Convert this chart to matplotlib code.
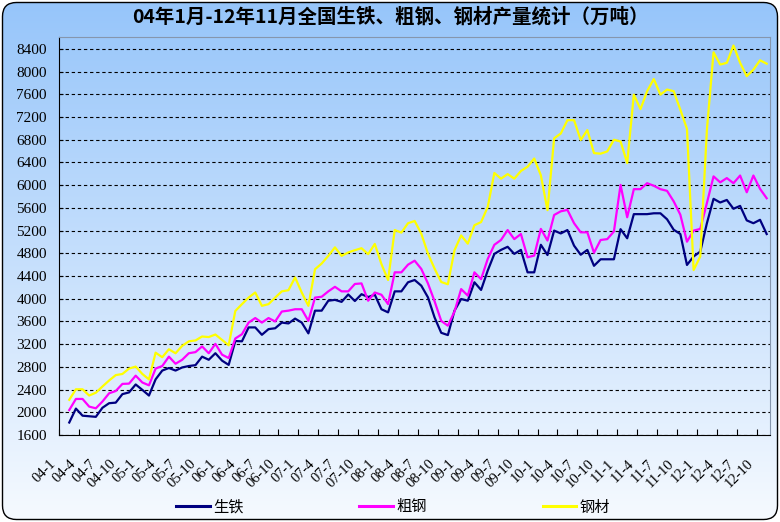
import numpy as np
import matplotlib
matplotlib.use("Agg")
import matplotlib.pyplot as plt
import matplotlib.transforms as mtransforms
from matplotlib.patches import FancyBboxPatch
from matplotlib.lines import Line2D

# ===================== DATA (万吨, 04-1 .. 12-11) =====================
# one row per year, Jan..Dec; 04-1 has no value
pig_iron = [
    None, 1820, 2065, 1940, 1930, 1920, 2080, 2160, 2170, 2320, 2350, 2490,
    2395, 2295, 2580, 2735, 2780, 2735, 2790, 2815, 2830, 2980, 2925, 3040,
    2910, 2835, 3255, 3250, 3495, 3495, 3365, 3465, 3480, 3580, 3565, 3650,
    3580, 3390, 3790, 3790, 3965, 3980, 3945, 4075, 3960, 4080, 4030, 4070,
    3815, 3760, 4130, 4130, 4290, 4330, 4230, 4025, 3670, 3400, 3360, 3790,
    3995, 3965, 4290, 4155, 4495, 4790, 4860, 4915, 4790, 4860, 4465, 4465,
    4950, 4770, 5200, 5150, 5210, 4935, 4775, 4860, 4580, 4695, 4695, 4695,
    5225, 5065, 5490, 5490, 5490, 5505, 5505, 5400, 5215, 5140, 4595, 4745,
    4830, 5330, 5760, 5695, 5740, 5585, 5635, 5380, 5330, 5390, 5140,
]
crude_steel = [
    None, 2040, 2235, 2235, 2100, 2070, 2190, 2335, 2375, 2500, 2505, 2645,
    2525, 2475, 2770, 2815, 2980, 2855, 2925, 3040, 3060, 3160, 3040, 3205,
    3015, 2955, 3300, 3375, 3580, 3660, 3580, 3660, 3600, 3775, 3790, 3815,
    3815, 3610, 4020, 4035, 4130, 4210, 4130, 4130, 4260, 4270, 3965, 4110,
    4070, 3905, 4465, 4465, 4600, 4670, 4525, 4270, 3955, 3610, 3525, 3775,
    4170, 4055, 4465, 4345, 4700, 4950, 5035, 5210, 5050, 5140, 4730, 4760,
    5230, 5025, 5475, 5540, 5565, 5330, 5170, 5170, 4810, 5035, 5050, 5185,
    6005, 5435, 5930, 5930, 6035, 5990, 5930, 5900, 5715, 5480, 5005, 5200,
    5230, 5685, 6155, 6050, 6125, 6035, 6170, 5875, 6170, 5935, 5770,
]
steel_products = [
    None, 2220, 2405, 2405, 2295, 2345, 2455, 2560, 2655, 2675, 2770, 2805,
    2675, 2580, 3050, 2970, 3110, 3040, 3170, 3250, 3265, 3335, 3325, 3370,
    3275, 3180, 3785, 3905, 4020, 4110, 3875, 3905, 4020, 4130, 4150, 4375,
    4110, 3875, 4520, 4620, 4755, 4905, 4755, 4815, 4855, 4890, 4785, 4965,
    4610, 4330, 5210, 5165, 5330, 5370, 5145, 4795, 4530, 4295, 4255, 4855,
    5115, 4970, 5295, 5350, 5615, 6215, 6115, 6195, 6115, 6250, 6325, 6470,
    6175, 5560, 6825, 6910, 7145, 7145, 6795, 6970, 6565, 6555, 6595, 6800,
    6770, 6390, 7595, 7340, 7655, 7870, 7595, 7685, 7655, 7330, 6990, 4505,
    4745, 6975, 8340, 8125, 8155, 8460, 8155, 7920, 8035, 8200, 8140,
]
series_names = ["生铁", "粗钢", "钢材"]
months = [f"{y:02d}-{m}" for y in range(4, 13) for m in range(1, 13)][:len(pig_iron)]
TITLE = "04年1月-12年11月全国生铁、粗钢、钢材产量统计（万吨）"
# =====================================================================

plt.rcParams['font.family'] = ['Noto Sans CJK SC', 'DejaVu Sans']

W, H = 780, 522
fig = plt.figure(figsize=(W / 100, H / 100), dpi=100)

# background: blue gradient inside a rounded frame
bg = fig.add_axes([0, 0, 1, 1], zorder=-10)
bg.set_xlim(0, W)
bg.set_ylim(0, H)
bg.axis('off')
t = np.linspace(0, 1, 256)[:, None, None]
top_c = np.array([150, 197, 250]) / 255
bot_c = np.array([246, 250, 255]) / 255
grad = top_c * (1 - t) + bot_c * t
im = bg.imshow(grad, extent=(0, W, 0, H), aspect='auto', origin='upper')
frame = FancyBboxPatch((2.5, 2.5), W - 5, H - 5,
                       boxstyle="round,pad=0,rounding_size=14",
                       fc='none', ec='black', lw=1.0)
bg.add_patch(frame)
im.set_clip_path(frame)

# plot area
x0, x1, ytop, ybot = 59.3, 770, 37, 435
ax = fig.add_axes([x0 / W, 1 - ybot / H, (x1 - x0) / W, (ybot - ytop) / H])
ax.patch.set_alpha(0)

x = np.arange(len(months))
colors = ["#000080", "#FF00FF", "#FFFF00"]
for vals, c in zip([pig_iron, crude_steel, steel_products], colors):
    ax.plot(x, np.array(vals, dtype=float), color=c, lw=1.6, zorder=3)

ax.set_xlim(-0.5, len(months) - 0.5)
ax.set_ylim(1600, 8610)
ax.set_yticks(range(1600, 8401, 400))
ax.yaxis.grid(True, linestyle=(0, (3, 2.5)), color='black', lw=0.8)
ax.set_axisbelow(True)
ax.tick_params(axis='y', direction='in', length=3, pad=9,
               labelsize=11, labelfontfamily='Liberation Serif')

ax.set_xticks(np.arange(-0.5, len(months), 3))
ax.tick_params(axis='x', direction='in', length=4, labelbottom=False)

for side in ['top', 'right']:
    ax.spines[side].set_color('#8696ad')
for side in ['left', 'bottom']:
    ax.spines[side].set_color('black')

# rotated month labels every 3 months
trans = mtransforms.blended_transform_factory(ax.transData, ax.transAxes) + \
    mtransforms.ScaledTranslation(-13 / 100, -22 / 100, fig.dpi_scale_trans)
for k in range(0, len(months), 3):
    ax.text(k, 0, months[k], transform=trans, rotation=45, ha='right', va='top',
            rotation_mode='anchor', fontsize=10.5, family='Liberation Serif')

fig.text(0.5, 1 - 17 / H, TITLE, ha='center', va='center',
         fontsize=14, fontweight='bold')

handles = [Line2D([], [], color=c, lw=2.2) for c in colors]
fig.legend(handles, series_names, loc='center', bbox_to_anchor=(393 / W, 1 - 507 / H),
           ncol=3, frameon=False, fontsize=11, handlelength=2.2,
           handletextpad=0.2, columnspacing=7.6)

fig.savefig("out.png", dpi=100)
